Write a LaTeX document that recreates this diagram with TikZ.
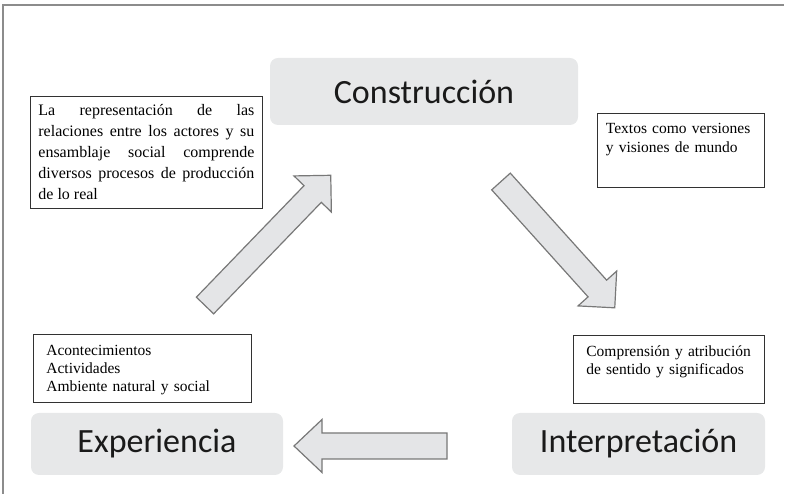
\documentclass[tikz,border=0pt]{standalone}
\usepackage{fontspec}
\setmainfont{Liberation Serif}
\newfontfamily\etiqfont{Carlito}
\usepackage{tikz}
\usetikzlibrary{positioning}
\definecolor{cajagris}{RGB}{231,232,233}
\definecolor{flechagris}{RGB}{228,229,231}
\definecolor{flechaborde}{RGB}{120,120,120}
\definecolor{marcogris}{RGB}{140,140,140}
\definecolor{notaborde}{RGB}{50,50,50}
\definecolor{textooscuro}{RGB}{26,26,26}
\hyphenpenalty=10000
\exhyphenpenalty=10000

\begin{document}
\begin{tikzpicture}[x=1pt, y=1pt,
    etapa/.style={fill=cajagris, rounded corners=8pt, text=textooscuro, font=\etiqfont\fontsize{34}{40}\selectfont},
    nota/.style={draw=notaborde, line width=0.8pt, anchor=north west, align=left, text height=11pt, font=\fontsize{15.5}{18}\selectfont},
    flecha/.style={fill=flechagris, draw=flechaborde, line width=1.2pt, line join=miter}]
    \useasboundingbox (0,0) rectangle (786,494);

    % Marco
    \draw[marcogris, line width=1.5pt] (3,0) -- (3,489) -- (784,489);

    % Etapas
    \node[etapa, minimum width=308pt, minimum height=67pt] (construccion) at (424,402.5) {Construcción};
    \node[etapa, minimum width=252pt, minimum height=62pt] (experiencia) at (157,50) {Experiencia};
    \node[etapa, minimum width=253pt, minimum height=62pt] (interpretacion) at (638.5,50) {Interpretación};

    % Notas
    \node[nota, align=justify, text width=216pt, inner xsep=8pt, inner ysep=7.75pt, text height=11.5pt, text depth=85pt,
          font=\fontsize{16}{21}\selectfont] (notaconst) at (30,398)
        {La representación de las\linebreak relaciones entre los actores y su\linebreak ensamblaje social comprende\linebreak diversos procesos de producción\linebreak de lo real};
    \node[nota, text width=150pt, inner xsep=8.5pt, inner ysep=9.5pt, text depth=44pt,
          font=\fontsize{15.5}{19}\selectfont] (notatextos) at (597,381)
        {Textos como versiones\\y visiones de mundo};
    \node[nota, text width=192pt, inner xsep=13pt, inner ysep=10.5pt, text depth=36pt] (notaexp) at (33,160)
        {Acontecimientos\\Actividades\\Ambiente natural y social};
    \node[nota, text width=165pt, inner xsep=13pt, inner ysep=10.5pt, text depth=36pt] (notainterp) at (573,159)
        {Comprensión y atribución\\de sentido y significados};

    % Flechas del ciclo
    \draw[flecha, shift={(205,188.5)}, rotate=46]
        (0,-12) -- (155,-12) -- (155,-26) -- (181,0) -- (155,26) -- (155,12) -- (0,12) -- cycle;
    \draw[flecha, shift={(501,312.5)}, rotate=-48]
        (0,-12.5) -- (144,-12.5) -- (144,-26) -- (170,0) -- (144,26) -- (144,12.5) -- (0,12.5) -- cycle;
    \draw[flecha, shift={(447,48)}, rotate=180]
        (0,-13) -- (125,-13) -- (125,-26.5) -- (153,0) -- (125,26.5) -- (125,13) -- (0,13) -- cycle;
\end{tikzpicture}
\end{document}
